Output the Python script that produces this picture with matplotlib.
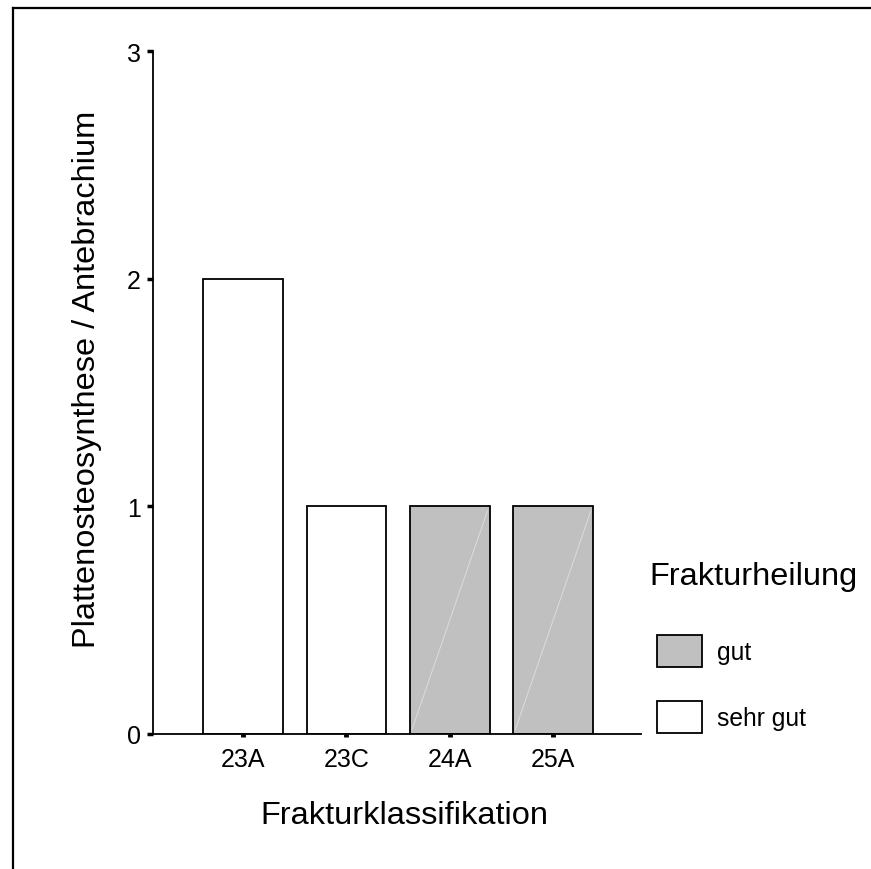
import matplotlib
matplotlib.use('Agg')
import matplotlib.pyplot as plt
from matplotlib.lines import Line2D
from matplotlib.patches import Patch

plt.rcParams['font.family'] = ['Liberation Sans', 'DejaVu Sans']

# Data
categories = ['23A', '23C', '24A', '25A']
counts = [2, 1, 1, 1]
healing = ['sehr gut', 'sehr gut', 'gut', 'gut']
y_ticks = [0, 1, 2, 3]

colors = {'gut': '#c0c0c0', 'sehr gut': '#ffffff'}
W, H = 871, 870

fig = plt.figure(figsize=(W / 100, H / 100), dpi=100)
fig.patch.set_facecolor('white')
ax = fig.add_axes([153 / W, (H - 735) / H, (641 - 153) / W, (735 - 52) / H])

x = list(range(len(categories)))
bar_w = 0.77
bars = ax.bar(x, counts, width=bar_w,
              color=[colors[h] for h in healing],
              edgecolor='black', linewidth=1.3, zorder=2)

# faint diagonal stroke inside gray bars
for xi, c, h in zip(x, counts, healing):
    if h == 'gut':
        ax.plot([xi - bar_w / 2 + 0.02, xi + bar_w / 2 - 0.02], [0.02, c - 0.02],
                color='#dcdcdc', linewidth=0.7, zorder=3)

ax.set_xlim(-0.87, 3.85)
ax.set_ylim(0, 3)
ax.set_xticks(x)
ax.set_xticklabels(categories, fontsize=18)
ax.set_yticks(y_ticks)
ax.set_yticklabels([str(t) for t in y_ticks], fontsize=18)

ax.tick_params(axis='y', direction='out', length=4, width=2.5, pad=5)
ax.tick_params(axis='x', direction='out', length=2.5, width=3.5, pad=7)

for s in ['top', 'right']:
    ax.spines[s].set_visible(False)
for s in ['left', 'bottom']:
    ax.spines[s].set_linewidth(1.3)
    ax.spines[s].set_zorder(4)

ax.set_ylabel('Plattenosteosynthese / Antebrachium', fontsize=23.4)
ax.yaxis.set_label_coords(-0.105, 0.52)
ax.set_xlabel('Frakturklassifikation', fontsize=23.4)
ax.xaxis.set_label_coords(0.516, -0.096)

# legend
fig.text(754 / W, 1 - 577 / H, 'Frakturheilung', fontsize=23.4,
         ha='center', va='center')
handles = [Patch(facecolor=colors['gut'], edgecolor='black', linewidth=1.3),
           Patch(facecolor=colors['sehr gut'], edgecolor='black', linewidth=1.3)]
fig.legend(handles, ['gut', 'sehr gut'], loc='upper left',
           bbox_to_anchor=(657 / W, 1 - 636 / H), fontsize=17.7,
           frameon=False, borderpad=0, borderaxespad=0,
           handlelength=1.83, handleheight=1.62, handletextpad=0.6,
           labelspacing=1.4)

# outer frame (left and top edges)
fig.add_artist(Line2D([13 / W, 13 / W], [0, 1 - 9 / H], color='black',
                      linewidth=1.6, transform=fig.transFigure))
fig.add_artist(Line2D([13 / W, 1], [1 - 9 / H, 1 - 9 / H], color='black',
                      linewidth=1.6, transform=fig.transFigure))

fig.savefig('out.png', dpi=100, facecolor='white')
plt.close(fig)
